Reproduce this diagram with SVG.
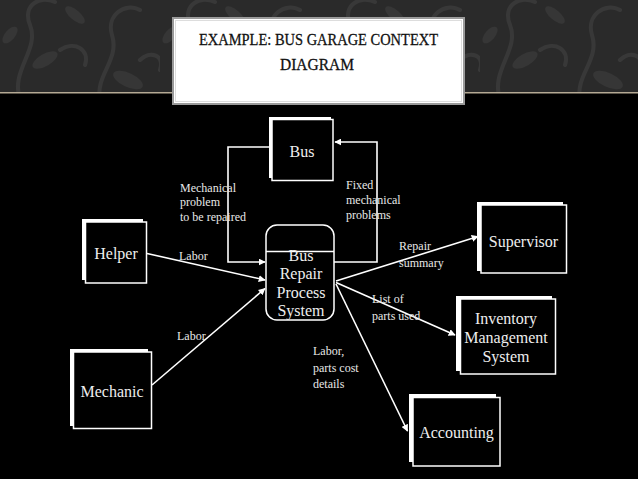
<svg xmlns="http://www.w3.org/2000/svg" width="638" height="479" viewBox="0 0 638 479">
  <defs>
    <pattern id="damask" x="0" y="-10" width="160" height="110" patternUnits="userSpaceOnUse">
      <rect width="160" height="110" fill="#2a2a2a"/>
      <g fill="none" stroke="#383838" stroke-width="4" stroke-linecap="round">
        <path d="M20,110 C10,80 40,60 30,35 C22,15 40,5 55,12"/>
        <path d="M100,110 C95,85 120,70 112,45 C106,25 125,12 140,20"/>
        <path d="M60,60 C75,50 90,60 85,75"/>
        <path d="M140,70 C150,60 165,65 160,80"/>
      </g>
      <g fill="#363636">
        <ellipse cx="45" cy="70" rx="14" ry="6" transform="rotate(-30 45 70)"/>
        <ellipse cx="128" cy="90" rx="16" ry="7" transform="rotate(25 128 90)"/>
        <ellipse cx="75" cy="25" rx="12" ry="5" transform="rotate(40 75 25)"/>
        <ellipse cx="10" cy="45" rx="10" ry="5" transform="rotate(-50 10 45)"/>
      </g>
    </pattern>
    <marker id="arrow" viewBox="0 0 10 10" refX="9" refY="5" markerWidth="7" markerHeight="7" markerUnits="userSpaceOnUse" orient="auto">
      <path d="M0,0 L10,5 L0,10 z" fill="#ffffff"/>
    </marker>
    <style>
      .shadow { fill: #ffffff; }
      .box { fill: #000000; stroke: #ffffff; stroke-width: 1.5; }
      .node-text { font-family: "Liberation Serif", "Times New Roman", serif; font-size: 16px; fill: #eeeeee; text-anchor: middle; }
      .label { font-family: "Liberation Serif", "Times New Roman", serif; font-size: 12px; fill: #e8e8e8; }
      .conn { fill: none; stroke: #ffffff; stroke-width: 1.6; marker-end: url(#arrow); }
      .title { font-family: "Liberation Serif", "Times New Roman", serif; font-size: 17px; fill: #111111; stroke: #111111; stroke-width: 0.3; text-anchor: middle; }
    </style>
  </defs>

  <!-- background -->
  <rect x="0" y="0" width="638" height="479" fill="#000000"/>
  <rect x="0" y="0" width="638" height="92" fill="url(#damask)"/>
  <rect x="0" y="92" width="638" height="1.5" fill="#b5a994"/>

  <!-- title -->
  <g id="title">
    <rect x="173" y="18" width="291" height="86" fill="#ffffff" stroke="#9a9a9a" stroke-width="2"/>
    <rect x="175.5" y="20.5" width="286" height="81" fill="none" stroke="#dddddd" stroke-width="1"/>
    <text class="title" x="318.5" y="45" textLength="239" lengthAdjust="spacingAndGlyphs">EXAMPLE: BUS GARAGE CONTEXT</text>
    <text class="title" x="317" y="70" textLength="74" lengthAdjust="spacingAndGlyphs">DIAGRAM</text>
  </g>

  <!-- connectors -->
  <g id="connectors">
    <polyline class="conn" points="272,147 228,147 228,262 265,262"/>
    <polyline class="conn" points="334,262 377,262 377,142 335,142"/>
    <line class="conn" x1="147" y1="253.5" x2="265" y2="280"/>
    <line class="conn" x1="152" y1="385" x2="265" y2="288.5"/>
    <line class="conn" x1="336" y1="281" x2="478" y2="236.5"/>
    <line class="conn" x1="336" y1="282.5" x2="455" y2="335"/>
    <line class="conn" x1="336" y1="284" x2="407.5" y2="431"/>
  </g>

  <!-- connector labels -->
  <g id="labels">
    <text class="label" x="180" y="191.5">Mechanical</text>
    <text class="label" x="180" y="206">problem</text>
    <text class="label" x="180" y="221">to be repaired</text>
    <text class="label" x="346" y="189">Fixed</text>
    <text class="label" x="346" y="203.5">mechanical</text>
    <text class="label" x="346" y="218.5">problems</text>
    <text class="label" x="179" y="260">Labor</text>
    <text class="label" x="177" y="339.5">Labor</text>
    <text class="label" x="399" y="250">Repair</text>
    <text class="label" x="399" y="267">summary</text>
    <text class="label" x="372" y="303">List of</text>
    <text class="label" x="372" y="320">parts used</text>
    <text class="label" x="313" y="355">Labor,</text>
    <text class="label" x="313" y="371.5">parts cost</text>
    <text class="label" x="313" y="388">details</text>
  </g>

  <!-- nodes -->
  <g id="bus">
    <rect class="shadow" x="269" y="117" width="62" height="61"/>
    <rect class="box" x="272" y="119.5" width="61" height="61"/>
    <text class="node-text" x="302" y="157">Bus</text>
  </g>

  <g id="process">
    <rect x="266" y="225" width="68" height="95" rx="11" ry="11" fill="#000000" stroke="#ffffff" stroke-width="1.5"/>
    <line x1="266" y1="251.5" x2="334" y2="251.5" stroke="#ffffff" stroke-width="1.5"/>
    <text class="node-text" x="301" y="260.5">Bus</text>
    <text class="node-text" x="301" y="279">Repair</text>
    <text class="node-text" x="301" y="297.5">Process</text>
    <text class="node-text" x="301" y="316">System</text>
  </g>

  <g id="helper">
    <rect class="shadow" x="82" y="219" width="61" height="61"/>
    <rect class="box" x="85.5" y="222" width="61" height="61"/>
    <text class="node-text" x="116" y="259">Helper</text>
  </g>

  <g id="mechanic">
    <rect class="shadow" x="70" y="349" width="78" height="77"/>
    <rect class="box" x="73.5" y="352" width="78" height="76.5"/>
    <text class="node-text" x="112" y="396.5">Mechanic</text>
  </g>

  <g id="supervisor">
    <rect class="shadow" x="477" y="202" width="86" height="69"/>
    <rect class="box" x="481" y="205" width="85.5" height="68"/>
    <text class="node-text" x="523.5" y="246.5">Supervisor</text>
  </g>

  <g id="inventory">
    <rect class="shadow" x="456" y="296" width="96" height="75"/>
    <rect class="box" x="460.5" y="299" width="95" height="75"/>
    <text class="node-text" x="506" y="324">Inventory</text>
    <text class="node-text" x="506" y="343">Management</text>
    <text class="node-text" x="506" y="361.5">System</text>
  </g>

  <g id="accounting">
    <rect class="shadow" x="409" y="394" width="87" height="68"/>
    <rect class="box" x="413" y="397.5" width="87" height="68.5"/>
    <text class="node-text" x="456.5" y="437.5">Accounting</text>
  </g>
</svg>
